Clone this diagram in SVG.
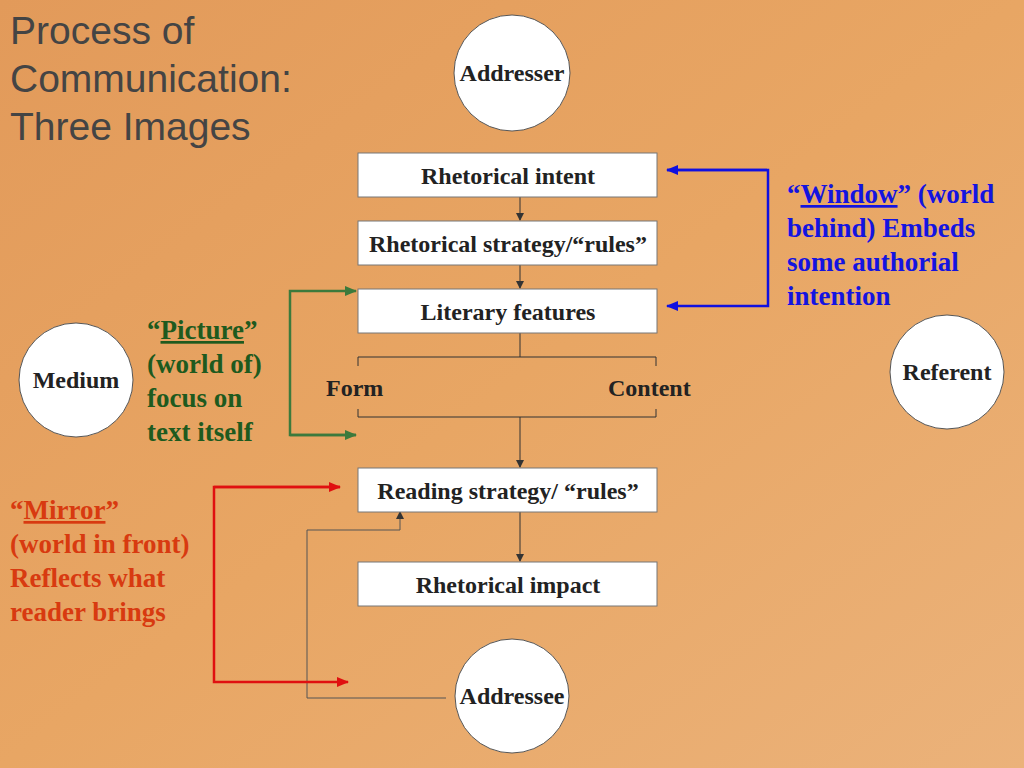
<svg xmlns="http://www.w3.org/2000/svg" width="1024" height="768" viewBox="0 0 1024 768">
<defs>
<linearGradient id="bg" x1="0" y1="0" x2="1" y2="1"><stop offset="0" stop-color="#E29A5A"/><stop offset="0.5" stop-color="#E8A664"/><stop offset="1" stop-color="#EBB27A"/></linearGradient>
<marker id="ak" markerWidth="8" markerHeight="8" refX="7" refY="4" orient="auto" markerUnits="userSpaceOnUse"><path d="M0,0 L8,4 L0,8 z" fill="#333"/></marker>
<marker id="ab" markerWidth="12" markerHeight="10" refX="11" refY="5" orient="auto" markerUnits="userSpaceOnUse"><path d="M0,0 L12,5 L0,10 z" fill="#1010E0"/></marker>
<marker id="ag" markerWidth="12" markerHeight="10" refX="11" refY="5" orient="auto" markerUnits="userSpaceOnUse"><path d="M0,0 L12,5 L0,10 z" fill="#3C7A3C"/></marker>
<marker id="ar" markerWidth="12" markerHeight="10" refX="11" refY="5" orient="auto" markerUnits="userSpaceOnUse"><path d="M0,0 L12,5 L0,10 z" fill="#E01010"/></marker>
</defs>
<style>
.box{fill:#fff;stroke:#777;stroke-width:1}
.circ{fill:#fff;stroke:#555;stroke-width:1}
.t{font-family:"Liberation Serif",serif;font-weight:bold;font-size:24px;fill:#222}
.h{font-family:"Liberation Sans",sans-serif;font-size:39px;fill:#444}
.lb{font-family:"Liberation Serif",serif;font-weight:bold;font-size:27px}
</style>
<rect width="1024" height="768" fill="url(#bg)"/>
<text class="h" x="10" y="44">Process of</text>
<text class="h" x="10" y="92">Communication:</text>
<text class="h" x="10" y="140">Three Images</text>
<g id="connectors" fill="none">
<path d="M520,197 V220" stroke="#333" marker-end="url(#ak)"/>
<path d="M520,265 V288" stroke="#333" marker-end="url(#ak)"/>
<path d="M520,333 V357 M358,366 V357 H656 V366 M358,409 V417 H656 V409 M520,417 V467" stroke="#333" marker-end="url(#ak)"/>
<path d="M520,512 V561" stroke="#333" marker-end="url(#ak)"/>
<path d="M446,698 H307 V530 H400 V512" stroke="#555" marker-end="url(#ak)"/>
<path d="M667,170 H768 V306 H667" stroke="#1010E0" stroke-width="2.5" marker-end="url(#ab)"/>
<path d="M767,170 H667" stroke="#1010E0" stroke-width="2.5" marker-end="url(#ab)"/>
<path d="M356,435 H290 V291 H356" stroke="#3C7A3C" stroke-width="2.5" marker-end="url(#ag)"/>
<path d="M290,435 H356" stroke="#3C7A3C" stroke-width="2.5" marker-end="url(#ag)"/>
<path d="M340,487 H214 V682 H348" stroke="#E01010" stroke-width="2.5" marker-end="url(#ar)"/>
<path d="M214,487 H340" stroke="#E01010" stroke-width="2.5" marker-end="url(#ar)"/>
</g>
<g id="addresser"><circle class="circ" cx="512" cy="73" r="58"/><text class="t" x="512" y="81" text-anchor="middle">Addresser</text></g>
<g id="intent"><rect class="box" x="358" y="153" width="299" height="44"/><text class="t" x="508" y="184" text-anchor="middle">Rhetorical intent</text></g>
<g id="strategy"><rect class="box" x="358" y="221" width="299" height="44"/><text class="t" x="508" y="252" text-anchor="middle">Rhetorical strategy/“rules”</text></g>
<g id="literary"><rect class="box" x="358" y="289" width="299" height="44"/><text class="t" x="508" y="320" text-anchor="middle">Literary features</text></g>
<g id="form"><text class="t" x="326" y="396">Form</text></g>
<g id="content"><text class="t" x="608" y="396">Content</text></g>
<g id="reading"><rect class="box" x="358" y="468" width="299" height="44"/><text class="t" x="508" y="499" text-anchor="middle">Reading strategy/ “rules”</text></g>
<g id="impact"><rect class="box" x="358" y="562" width="299" height="44"/><text class="t" x="508" y="593" text-anchor="middle">Rhetorical impact</text></g>
<g id="addressee"><circle class="circ" cx="512" cy="696" r="57"/><text class="t" x="512" y="704" text-anchor="middle">Addressee</text></g>
<g id="medium"><circle class="circ" cx="76" cy="380" r="57"/><text class="t" x="76" y="388" text-anchor="middle">Medium</text></g>
<g id="referent"><circle class="circ" cx="947" cy="372" r="57"/><text class="t" x="947" y="380" text-anchor="middle">Referent</text></g>
<g id="window" class="lb" fill="#1414E0">
<text x="787" y="203">“<tspan text-decoration="underline">Window</tspan>” (world</text>
<text x="787" y="237">behind) Embeds</text>
<text x="787" y="271">some authorial</text>
<text x="787" y="305">intention</text>
</g>
<g id="picture" class="lb" fill="#1E5A1E">
<text x="147" y="339">“<tspan text-decoration="underline">Picture</tspan>”</text>
<text x="147" y="373">(world of)</text>
<text x="147" y="407">focus on</text>
<text x="147" y="441">text itself</text>
</g>
<g id="mirror" class="lb" fill="#D83A10">
<text x="10" y="519">“<tspan text-decoration="underline">Mirror</tspan>”</text>
<text x="10" y="553">(world in front)</text>
<text x="10" y="587">Reflects what</text>
<text x="10" y="621">reader brings</text>
</g>
</svg>
